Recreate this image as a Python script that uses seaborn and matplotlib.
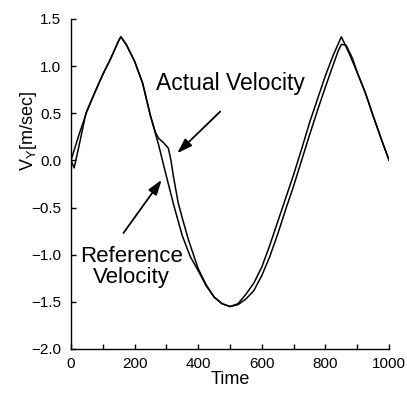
import matplotlib
matplotlib.use("Agg")
import matplotlib.pyplot as plt
from matplotlib.ticker import MultipleLocator
import seaborn as sns
import pandas as pd

# Reference velocity
t_ref = [0, 25, 50, 75, 100, 125, 150, 157, 175, 200, 225, 250, 275, 300, 325,
         350, 375, 400, 425, 450, 475, 500, 525, 550, 575, 600, 625, 650, 675,
         700, 725, 750, 775, 800, 825, 850, 875, 900, 925, 950, 975, 1000]
v_ref = [0.0, 0.27, 0.52, 0.72, 0.91, 1.08, 1.27, 1.31, 1.22, 1.05, 0.82, 0.47,
         0.17, -0.17, -0.5, -0.8, -1.02, -1.17, -1.33, -1.45, -1.52, -1.55,
         -1.52, -1.42, -1.3, -1.13, -0.9, -0.65, -0.4, -0.15, 0.12, 0.4, 0.65,
         0.9, 1.12, 1.31, 1.13, 0.93, 0.72, 0.47, 0.23, 0.0]

# Actual velocity
t_act = [0, 10, 25, 47, 75, 100, 125, 150, 157, 175, 200, 225, 250, 265, 275,
         290, 306, 314, 322, 337, 353, 369, 385, 400, 425, 450, 475, 500, 525,
         550, 575, 600, 625, 650, 675, 700, 725, 750, 775, 800, 825, 840, 850,
         865, 885, 900, 925, 950, 975, 1000]
v_act = [0.0, -0.08, 0.15, 0.5, 0.72, 0.91, 1.08, 1.27, 1.31, 1.22, 1.05, 0.82,
         0.47, 0.3, 0.235, 0.19, 0.13, 0.005, -0.17, -0.45, -0.65, -0.84, -1.0,
         -1.15, -1.32, -1.45, -1.52, -1.55, -1.53, -1.47, -1.38, -1.22, -1.02,
         -0.78, -0.52, -0.27, 0.0, 0.27, 0.53, 0.78, 1.02, 1.16, 1.23, 1.22,
         1.08, 0.93, 0.72, 0.47, 0.23, 0.0]

x_ticks = [0, 200, 400, 600, 800, 1000]
y_ticks = [-2.0, -1.5, -1.0, -0.5, 0.0, 0.5, 1.0, 1.5]

sns.set_style("ticks")
plt.rcParams['font.family'] = ['Liberation Sans', 'DejaVu Sans']
plt.rcParams['mathtext.fontset'] = 'custom'
plt.rcParams['mathtext.rm'] = 'Liberation Sans'
plt.rcParams['text.color'] = 'black'
plt.rcParams['axes.labelcolor'] = 'black'

fig = plt.figure(figsize=(4.07, 3.93), dpi=100)
ax = fig.add_axes([0.1744, 0.112, 0.7816, 0.84])

ref_df = pd.DataFrame({"Time": t_ref, "V": v_ref})
act_df = pd.DataFrame({"Time": t_act, "V": v_act})
sns.lineplot(data=ref_df, x="Time", y="V", ax=ax, color="black", lw=1.1)
sns.lineplot(data=act_df, x="Time", y="V", ax=ax, color="black", lw=1.1)

ax.set_xlim(0, 1000)
ax.set_ylim(-2.0, 1.5)
ax.set_xticks(x_ticks)
ax.set_yticks(y_ticks)
ax.xaxis.set_minor_locator(MultipleLocator(100))
ax.set_yticklabels([f"{v:.1f}".replace("-", "\u2212") for v in y_ticks])
ax.tick_params(axis="both", which="both", direction="in", length=3.5,
               width=1.0, labelsize=11, color="black", labelcolor="black")
ax.tick_params(axis="y", pad=7)
ax.tick_params(axis="x", pad=6)
sns.despine(ax=ax)
for s in ["left", "bottom"]:
    ax.spines[s].set_linewidth(1.0)
    ax.spines[s].set_color("black")

ax.set_xlabel("Time", fontsize=13, labelpad=0, color="black")
ax.set_ylabel(r"V$_\mathrm{Y}$[m/sec]", fontsize=13, color="black")
ax.yaxis.set_label_coords(-0.10, 0.66)

arrow = dict(arrowstyle="-|>,head_length=0.9,head_width=0.3", color="black",
             lw=1.3, shrinkA=0, shrinkB=0)
ax.annotate("", xy=(334, 0.076), xytext=(469, 0.517), arrowprops=arrow)
ax.annotate("", xy=(285, -0.207), xytext=(165, -0.77), arrowprops=arrow)
ax.text(500, 0.82, "Actual Velocity", fontsize=16.5, ha="center",
        va="center", color="black")
ax.text(189, -1.13, "Reference\nVelocity", fontsize=16, ha="center",
        va="center", linespacing=1.05, color="black")

fig.savefig("out.png", dpi=100)
